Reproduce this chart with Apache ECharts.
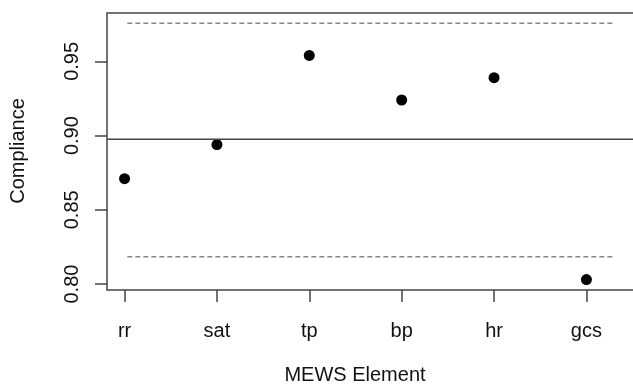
<!doctype html>
<html>

<head>
  <meta charset="utf-8">
  <title>MEWS Compliance</title>
  <script src="https://cdn.jsdelivr.net/npm/echarts@6/dist/echarts.min.js"></script>
  <style>
    html,
    body {
      width: 100%;
      height: 100%;
      background-color: #fff;
      padding: 0;
      margin: 0;
    }

    #main {
      width: 633px;
      height: 389px;
    }
  </style>
</head>

<body>
  <div id="main"></div>
</body>

<script type="text/javascript">
  // data
  var elements = ['rr', 'sat', 'tp', 'bp', 'hr', 'gcs'];
  var compliance = [0.871, 0.894, 0.954, 0.924, 0.939, 0.803];
  var centreLine = 0.8975;
  var upperLimit = 0.9757;
  var lowerLimit = 0.8184;
  var limitSpan = [1.03, 6.3]; // x extent of the dashed limits
  var yTicks = [0.80, 0.85, 0.90, 0.95];
  var xTicks = [1, 2, 3, 4, 5, 6];

  var font = 'Liberation Sans, Arial, Helvetica, sans-serif';

  var points = compliance.map(function (v, i) { return [i + 1, v]; });

  var option = {
    animation: false,
    grid: {
      left: 107,
      right: -7,
      top: 13,
      bottom: 99,
      show: true,
      borderColor: '#444',
      borderWidth: 1.5,
      containLabel: false,
      outerBoundsMode: 'none'
    },
    xAxis: {
      type: 'value',
      min: 0.81,
      max: 6.58,
      axisLine: { show: false },
      splitLine: { show: false },
      axisTick: {
        show: true,
        inside: false,
        length: 12,
        customValues: xTicks,
        lineStyle: { color: '#444', width: 1.5 }
      },
      axisLabel: {
        customValues: xTicks,
        margin: 31,
        fontFamily: font,
        fontSize: 20,
        color: '#111',
        formatter: function (v) { return elements[Math.round(v) - 1]; }
      }
    },
    yAxis: {
      type: 'value',
      min: 0.796,
      max: 0.9826,
      axisLine: { show: false },
      splitLine: { show: false },
      axisTick: {
        show: true,
        inside: false,
        length: 12,
        customValues: yTicks,
        lineStyle: { color: '#444', width: 1.5 }
      },
      axisLabel: {
        customValues: yTicks,
        rotate: 90,
        margin: 25,
        fontFamily: font,
        fontSize: 20,
        color: '#111',
        formatter: function (v) { return v.toFixed(2); }
      }
    },
    graphic: [{
      type: 'text',
      x: 355,
      y: 375,
      style: {
        text: 'MEWS Element',
        font: '20px ' + font,
        fill: '#111',
        textAlign: 'center',
        textVerticalAlign: 'middle'
      }
    }, {
      type: 'text',
      x: 18,
      y: 151,
      rotation: Math.PI / 2,
      style: {
        text: 'Compliance',
        font: '20px ' + font,
        fill: '#111',
        textAlign: 'center',
        textVerticalAlign: 'middle'
      }
    }],
    series: [
      {
        name: 'centre',
        type: 'line',
        symbol: 'none',
        silent: true,
        data: [[0.81, centreLine], [6.58, centreLine]],
        lineStyle: { color: '#444', width: 1.5 }
      },
      {
        name: 'upper',
        type: 'line',
        symbol: 'none',
        silent: true,
        data: [[limitSpan[0], upperLimit], [limitSpan[1], upperLimit]],
        lineStyle: { color: '#888', width: 1.5, type: [5, 3] }
      },
      {
        name: 'lower',
        type: 'line',
        symbol: 'none',
        silent: true,
        data: [[limitSpan[0], lowerLimit], [limitSpan[1], lowerLimit]],
        lineStyle: { color: '#888', width: 1.5, type: [5, 3] }
      },
      {
        name: 'compliance',
        type: 'scatter',
        symbol: 'circle',
        symbolSize: 11,
        itemStyle: { color: '#000', opacity: 1 },
        data: points
      }
    ]
  };

  var myChart = echarts.init(document.getElementById('main'));
  myChart.setOption(option);
</script>

</html>
